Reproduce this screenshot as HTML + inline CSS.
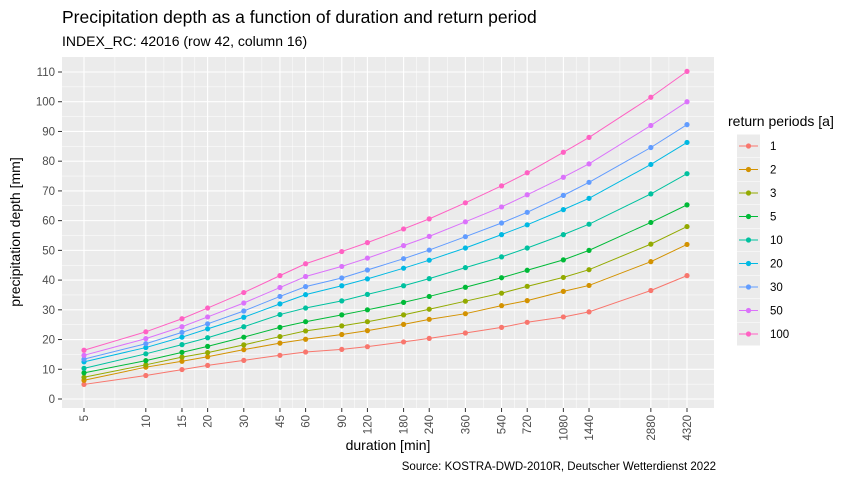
<!DOCTYPE html>
<html><head><meta charset="utf-8"><style>
body{margin:0;background:#fff;font-family:"Liberation Sans",Arial,sans-serif}
svg text{font-family:"Liberation Sans",Arial,sans-serif}
</style></head><body>
<svg id="c" width="864" height="480" xmlns="http://www.w3.org/2000/svg">
<text x="62" y="23" font-size="17.5" fill="#000">Precipitation depth as a function of duration and return period</text>
<text x="62" y="46" font-size="14" fill="#000">INDEX_RC: 42016 (row 42, column 16)</text>
<rect x="62" y="57" width="652" height="351" fill="#EBEBEB"/>
<g id="grid"></g><g id="series"></g><g id="axes"></g>
<text x="388" y="450" font-size="14" text-anchor="middle" fill="#000">duration [min]</text>
<text transform="translate(20,232) rotate(-90)" font-size="14" text-anchor="middle" fill="#000">precipitation depth [mm]</text>
<text x="716" y="470" font-size="11.5" text-anchor="end" fill="#000">Source: KOSTRA-DWD-2010R, Deutscher Wetterdienst 2022</text>
<g id="legend"><text x="728" y="126" font-size="14" fill="#000">return periods [a]</text></g>
</svg>
<script>
const durations=[5,10,15,20,30,45,60,90,120,180,240,360,540,720,1080,1440,2880,4320];
const periods=["1","2","3","5","10","20","30","50","100"];
const colors=["#F8766D","#D39200","#93AA00","#00BA38","#00C19F","#00B9E3","#619CFF","#DB72FB","#FF61C3"];
const yTicks=[0,10,20,30,40,50,60,70,80,90,100,110];
const s1=[4.9,7.9,9.9,11.3,13,14.7,15.8,16.7,17.6,19.2,20.4,22.2,24.1,25.8,27.6,29.3,36.5,41.5];
const s2=[6.3,10.7,12.7,14.2,16.6,18.8,20.1,21.7,23,25.1,26.8,28.7,31.4,33.1,36.2,38.2,46.2,52];
const s3=[7.3,11.5,14.1,15.6,18.2,21,22.9,24.6,26,28.3,30.2,32.9,35.6,37.9,40.9,43.5,52.1,58];
const s5=[8.8,12.9,15.7,17.7,20.8,24.1,26,28.3,30,32.5,34.5,37.6,40.8,43.3,46.8,50,59.4,65.3];
const s10=[10.3,15.2,18.3,20.6,24.3,28.4,30.6,33,35.2,38.1,40.5,44.2,47.8,50.8,55.3,58.8,69,75.8];
const s20=[12.5,17.3,20.8,23.6,27.5,32,35.1,38.1,40.4,44,46.7,50.8,55.3,58.6,63.7,67.5,78.9,86.3];
const s30=[13.4,18.6,22.4,25.3,29.6,34.5,37.8,40.7,43.4,47.2,50.1,54.6,59.2,62.8,68.5,72.9,84.6,92.3];
const s50=[14.7,20.3,24.3,27.6,32.3,37.5,41.2,44.6,47.4,51.6,54.7,59.6,64.6,68.7,74.6,79.1,92,100];
const s100=[16.4,22.6,27,30.6,35.8,41.5,45.5,49.6,52.6,57.2,60.6,66,71.7,76.1,83,88,101.5,110.2];
const series=[s1,s2,s3,s5,s10,s20,s30,s50,s100];
const NS="http://www.w3.org/2000/svg";
const x=d=>84+603*Math.log(d/5)/Math.log(4320/5);
const y=v=>399-v*(327/110);
function el(t,a,p){const e=document.createElementNS(NS,t);for(const k in a)e.setAttribute(k,a[k]);p.appendChild(e);return e;}
const grid=document.getElementById('grid'),axes=document.getElementById('axes'),ser=document.getElementById('series');
for(let i=0;i<yTicks.length;i++){
 if(i<yTicks.length-1){const m=y(yTicks[i]+5);const g=el('line',{x1:62,x2:714,y1:m,y2:m,stroke:'#fff','stroke-width':0.5},grid);}
 const yy=y(yTicks[i]);
 const g=el('line',{x1:62,x2:714,y1:yy,y2:yy,stroke:'#fff','stroke-width':1.1},grid);
 
 el('line',{x1:58,x2:62,y1:yy,y2:yy,stroke:'#333'},axes);
 const t=el('text',{x:55,y:yy+4,'font-size':11.5,'text-anchor':'end',fill:'#4D4D4D'},axes);t.textContent=yTicks[i];
 
}
durations.forEach((d,i)=>{
 if(i<durations.length-1){const m=x(Math.sqrt(d*durations[i+1]));const g=el('line',{x1:m,x2:m,y1:57,y2:408,stroke:'#fff','stroke-width':0.5},grid);}
 const xx=x(d);
 const g=el('line',{x1:xx,x2:xx,y1:57,y2:408,stroke:'#fff','stroke-width':1.1},grid);
 
 el('line',{x1:xx,x2:xx,y1:408,y2:412,stroke:'#333'},axes);
 const t=el('text',{transform:`translate(${xx+4},415) rotate(-90)`,'font-size':11.5,'text-anchor':'end',fill:'#4D4D4D'},axes);t.textContent=d;
 
});
series.forEach((s,k)=>{
 const g=el('g',{},ser);
 
 const p=el('polyline',{points:s.map((v,i)=>x(durations[i])+','+y(v)).join(' '),fill:'none',stroke:colors[k],'stroke-width':1},g);
 
 s.forEach((v,i)=>{const c=el('circle',{cx:x(durations[i]),cy:y(v),r:2.6,fill:colors[k]},g);
  });
});
const lg=document.getElementById('legend');
periods.forEach((p,k)=>{
 const cy=146+k*23.5;
 const g=el('g',{},lg);
 
 el('rect',{x:737,y:cy-11.5,width:23,height:23,fill:'#EBEBEB'},g);
 el('line',{x1:739,x2:758,y1:cy,y2:cy,stroke:colors[k]},g);
 el('circle',{cx:748.5,cy:cy,r:2.6,fill:colors[k]},g);
 const t=el('text',{x:770,y:cy+4,'font-size':11.5,fill:'#000'},g);t.textContent=p;
});
</script>
</body></html>
